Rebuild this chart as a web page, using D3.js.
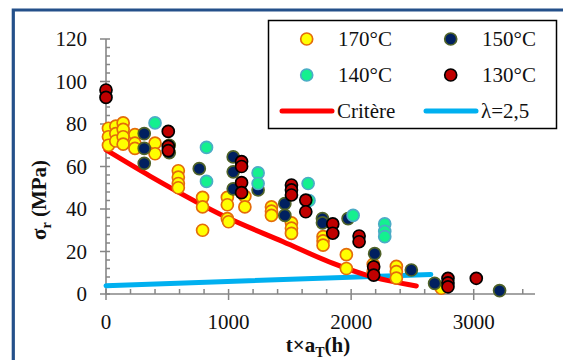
<!DOCTYPE html>
<html><head><meta charset="utf-8">
<script src="https://cdn.jsdelivr.net/npm/d3@7"></script>
<style>body{margin:0;background:#fff}svg{display:block}
text{font-family:"Liberation Serif","Times New Roman",Times,"DejaVu Serif",serif;}</style>
</head><body>
<svg id="c" width="563" height="360"></svg>
<script>
const xTicks = [0, 1000, 2000, 3000];
const yTicks = [0, 20, 40, 60, 80, 100, 120];
const seriesNames = ["170°C", "150°C", "140°C", "130°C"];
const s170 = [[20,78],[20,74],[20,70],[80,79],[80,75.5],[80,72],[140,80.5],[140,77.5],[140,74],[140,70.5],
  [236,75],[236,71],[236,68.5],[400,71],[400,66],[590,58],[590,55],[590,52],[590,50],[788,45.5],[788,41],[788,30],
  [990,45.5],[990,42],[990,35.5],[1000,34],[1133,46],[1133,41],[1350,41],[1350,39],[1350,37],[1513,33.5],[1513,31],[1513,28.5],
  [1771,27],[1771,25],[1771,23],[1961,18.5],[1961,12],[2180,14],[2180,10.5],[2369,13],[2369,10.5],[2369,7.5],[2736,2.7]];
const s150 = [[312,75.5],[312,68.5],[312,61.5],[516,70],[516,66.5],[761,59],[1038,64.5],[1038,57.5],[1038,49.5],[1241,49],
  [1459,42.5],[1459,37],[1766,35.5],[1766,33.5],[1975,35.5],[2192,19],[2491,11.3],[2681,5],[3211,1.6]];
const s140 = [[400,80.5],[820,69],[820,53],[1241,57],[1241,52],[1656,44],[1649,52],[2016,37],[2274,33],[2274,29.5],[2274,27]];
const s130 = [[0,96],[0,92.5],[508,76.5],[508,69.5],[508,67.5],[1106,62.3],[1106,60],[1106,52.4],[1106,47.7],
  [1513,51.3],[1513,49],[1513,46.6],[1630,44.2],[1630,38.7],[1850,33],[1850,28.6],[2065,27.3],[2065,24.6],
  [2184,12.8],[2184,8.9],[2790,7.4],[2790,5.2],[2790,3.4],[3021,7.4]];
const critere = [[0,67.8],[359,55.5],[983,36.1],[1445,24.6],[1853,14.4],[2124,8.9],[2532,3.8]];
const lambda = [[0,3.9],[2650,9.2]];

const svg = d3.select("#c");
const x = d3.scaleLinear().domain([0,3500]).range([106,535]);
const y = d3.scaleLinear().domain([0,120]).range([294,39]);
const axisCol = "#868686";
const R = 6;

// frame
svg.append("path").attr("d","M13.3,360 V10 H563").attr("fill","none").attr("stroke","#24508a").attr("stroke-width",3.2);

// y axis
const gy = svg.append("g");
gy.append("line").attr("x1",x(0)).attr("x2",x(0)).attr("y1",y(120)).attr("y2",y(0)).attr("stroke",axisCol).attr("stroke-width",1.6);
d3.range(0,121,4).forEach(v=>{
  const major = v%20===0;
  gy.append("line").attr("x1",x(0)-(major?6:0)).attr("x2",x(0)+4).attr("y1",y(v)).attr("y2",y(v)).attr("stroke",axisCol).attr("stroke-width",1.5);
});
yTicks.forEach(v=>{
  gy.append("text").attr("x",87).attr("y",y(v)).attr("dy","0.34em").attr("text-anchor","end")
    .attr("font-size",21).attr("fill","#111").text(v);
});
// x axis
const gx = svg.append("g");
gx.append("line").attr("x1",x(0)).attr("x2",x(3500)).attr("y1",y(0)).attr("y2",y(0)).attr("stroke",axisCol).attr("stroke-width",1.6);
d3.range(0,3401,200).forEach(v=>{
  const major = v%1000===0;
  gx.append("line").attr("x1",x(v)).attr("x2",x(v)).attr("y1",y(0)-5).attr("y2",y(0)+(major?6:0)).attr("stroke",axisCol).attr("stroke-width",1.5);
});
xTicks.forEach(v=>{
  gx.append("text").attr("x",x(v)).attr("y",329).attr("text-anchor","middle")
    .attr("font-size",21).attr("fill","#111").text(v);
});

// axis titles
const yt = svg.append("text").attr("transform","translate(46,200) rotate(-90)").attr("text-anchor","middle")
  .attr("font-size",21).attr("font-weight","bold").attr("fill","#111");
yt.append("tspan").text("σ");
yt.append("tspan").attr("font-size",14).attr("dy",5).text("r");
yt.append("tspan").attr("dy",-5).text(" (MPa)");
const xt = svg.append("text").attr("x",318).attr("y",352).attr("text-anchor","middle")
  .attr("font-size",21).attr("font-weight","bold").attr("fill","#111");
xt.append("tspan").text("t×a");
xt.append("tspan").attr("font-size",14).attr("dy",5).text("T");
xt.append("tspan").attr("dy",-5).text("(h)");

// lines
const line = d3.line().x(d=>x(d[0])).y(d=>y(d[1])).curve(d3.curveMonotoneX);
svg.append("path").datum(lambda).attr("d",line).attr("fill","none").attr("stroke","#00b0f0").attr("stroke-width",5).attr("stroke-linecap","round");
svg.append("path").datum(critere).attr("d",line).attr("fill","none").attr("stroke","#ff0000").attr("stroke-width",5).attr("stroke-linecap","round");

// points
const styles = [
  {data:s170, fill:"#ffff00", stroke:"#e46c0a"},
  {data:s150, fill:"#002060", stroke:"#4f6228"},
  {data:s140, fill:"#14f08f", stroke:"#4bacc6"},
  {data:s130, fill:"#c00000", stroke:"#000000"}
];
styles.forEach(s=>{
  svg.append("g").selectAll("circle").data(s.data).join("circle")
    .attr("cx",d=>x(d[0])).attr("cy",d=>y(d[1])).attr("r",R)
    .attr("fill",s.fill).attr("stroke",s.stroke).attr("stroke-width",1.7);
});

// legend
const lg = svg.append("g");
lg.append("rect").attr("x",268.5).attr("y",20.5).attr("width",288).attr("height",108).attr("fill","#fff").attr("stroke","#000").attr("stroke-width",1.5);
const lpos = [[306.7,39,338],[450.7,39,482],[306.7,75,338],[450.7,75,482]];
[0,1,2,3].forEach((i,k)=>{
  const p = lpos[k];
  lg.append("circle").attr("cx",p[0]).attr("cy",p[1]).attr("r",R).attr("fill",styles[i].fill).attr("stroke",styles[i].stroke).attr("stroke-width",1.7);
  lg.append("text").attr("x",p[2]).attr("y",p[1]).attr("dy","0.34em").attr("font-size",21).attr("fill","#111").text(seriesNames[i]);
});
lg.append("line").attr("x1",282).attr("x2",332).attr("y1",111).attr("y2",111).attr("stroke","#ff0000").attr("stroke-width",5).attr("stroke-linecap","round");
lg.append("text").attr("x",337).attr("y",111).attr("dy","0.34em").attr("font-size",21).attr("fill","#111").text("Critère");
lg.append("line").attr("x1",426).attr("x2",476).attr("y1",111).attr("y2",111).attr("stroke","#00b0f0").attr("stroke-width",5).attr("stroke-linecap","round");
lg.append("text").attr("x",481).attr("y",111).attr("dy","0.34em").attr("font-size",21).attr("fill","#111").text("λ=2,5");
</script>
</body></html>
